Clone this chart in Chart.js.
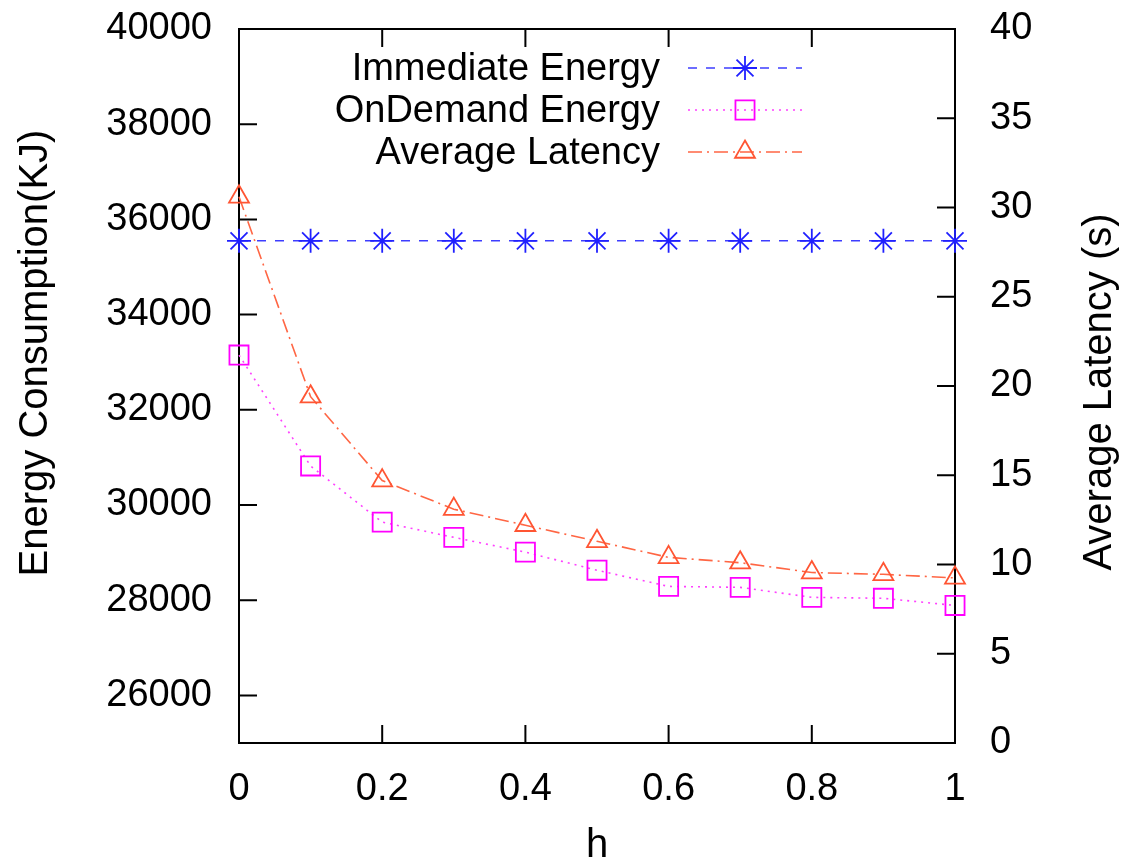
<!DOCTYPE html>
<html>
<head>
<meta charset="utf-8">
<script src="https://cdn.jsdelivr.net/npm/chart.js@4.4.1/dist/chart.umd.min.js"></script>
<style>
  html, body { margin: 0; padding: 0; background: #fff; }
  #wrap { width: 1127px; height: 862px; }
</style>
</head>
<body>
<div id="wrap"><canvas id="grafico"></canvas></div>
<script>
// valores
const hValues = [0, 0.1, 0.2, 0.3, 0.4, 0.5, 0.6, 0.7, 0.8, 0.9, 1];
const immediateEnergy = [35550, 35550, 35550, 35550, 35550, 35550, 35550, 35550, 35550, 35550, 35550];
const onDemandEnergy = [33150, 30820, 29640, 29320, 29010, 28630, 28290, 28270, 28060, 28040, 27890];
const avgLatency = [30.6, 19.4, 14.7, 13.1, 12.2, 11.3, 10.4, 10.1, 9.55, 9.45, 9.25];

const energyTicks = [26000, 28000, 30000, 32000, 34000, 36000, 38000, 40000];
const latencyTicks = [0, 5, 10, 15, 20, 25, 30, 35, 40];
const hTicks = [0, 0.2, 0.4, 0.6, 0.8, 1];

const seriesNames = ['Immediate Energy', 'OnDemand Energy', 'Average Latency'];
const xTitle = 'h';
const yTitle = 'Energy Consumption(KJ)';
const y2Title = 'Average Latency (s)';

const FUENTE = "'Liberation Sans', Arial, Helvetica, sans-serif";

function puntos(ys) {
    return hValues.map((h, i) => ({ x: h, y: ys[i] }));
}

// marcas hacia dentro, marco, leyenda y titulos (estilo gnuplot)
const estiloGnuplot = {
    id: 'estiloGnuplot',
    beforeDatasetsDraw(chart) {
        const { ctx, chartArea: a, scales } = chart;
        const largo = 18;
        ctx.save();
        ctx.strokeStyle = '#000';
        ctx.lineWidth = 2;
        ctx.beginPath();
        energyTicks.forEach(v => {
            const y = scales.y.getPixelForValue(v);
            ctx.moveTo(a.left, y);
            ctx.lineTo(a.left + largo, y);
        });
        latencyTicks.forEach(v => {
            const y = scales.y2.getPixelForValue(v);
            ctx.moveTo(a.right, y);
            ctx.lineTo(a.right - largo, y);
        });
        hTicks.forEach(v => {
            const x = scales.x.getPixelForValue(v);
            ctx.moveTo(x, a.bottom);
            ctx.lineTo(x, a.bottom - largo);
            ctx.moveTo(x, a.top);
            ctx.lineTo(x, a.top + largo);
        });
        ctx.stroke();
        ctx.strokeRect(a.left, a.top, a.right - a.left, a.bottom - a.top);
        ctx.restore();
    },
    afterDraw(chart) {
        const { ctx, chartArea: a } = chart;
        ctx.save();

        // titulos de los ejes
        ctx.fillStyle = '#000';
        ctx.font = '40px ' + FUENTE;
        ctx.textAlign = 'center';
        ctx.textBaseline = 'middle';
        ctx.fillText(xTitle, (a.left + a.right) / 2, 846);
        ctx.save();
        ctx.translate(36, 353);
        ctx.rotate(-Math.PI / 2);
        ctx.fillText(yTitle, 0, 0);
        ctx.restore();
        ctx.save();
        ctx.translate(1100, 392);
        ctx.rotate(-Math.PI / 2);
        ctx.fillText(y2Title, 0, 0);
        ctx.restore();

        // leyenda
        const filas = [68, 110, 152];
        chart.data.datasets.forEach((ds, i) => {
            const y = filas[i];
            ctx.fillStyle = '#000';
            ctx.font = '38px ' + FUENTE;
            ctx.textAlign = 'right';
            ctx.textBaseline = 'middle';
            ctx.fillText(seriesNames[i], 660, y + 2);

            ctx.strokeStyle = ds.borderColor;
            ctx.lineWidth = ds.borderWidth;
            ctx.setLineDash(ds.borderDash);
            ctx.beginPath();
            ctx.moveTo(688, y);
            ctx.lineTo(802, y);
            ctx.stroke();
            ctx.setLineDash([]);

            ctx.strokeStyle = ds.pointBorderColor;
            ctx.fillStyle = 'rgba(0,0,0,0)';
            ctx.lineWidth = ds.pointBorderWidth;
            Chart.helpers.drawPoint(ctx, {
                pointStyle: ds.pointStyle,
                radius: ds.pointRadius,
                rotation: 0,
                borderWidth: ds.pointBorderWidth
            }, 745, y);
        });
        ctx.restore();
    }
};

const sinRelleno = (s) => { s.paddingTop = 0; s.paddingBottom = 0; };

const ctx = document.getElementById('grafico').getContext('2d');
const grafico = new Chart(ctx, {
    type: 'line',
    data: {
        datasets: [{
            label: seriesNames[0],
            data: puntos(immediateEnergy),
            yAxisID: 'y',
            borderColor: 'rgba(40, 40, 255, 0.9)',
            borderWidth: 1.6,
            borderDash: [9, 9],
            pointStyle: 'star',
            pointRadius: 12,
            pointBorderColor: '#2020ff',
            pointBackgroundColor: 'rgba(0,0,0,0)',
            pointBorderWidth: 1.8,
            clip: false
        }, {
            label: seriesNames[1],
            data: puntos(onDemandEnergy),
            yAxisID: 'y',
            borderColor: '#ff40ff',
            borderWidth: 1.6,
            borderDash: [2, 5],
            pointStyle: 'rect',
            pointRadius: 13.5,
            pointBorderColor: '#ff00ff',
            pointBackgroundColor: 'rgba(0,0,0,0)',
            pointBorderWidth: 1.8,
            clip: false
        }, {
            label: seriesNames[2],
            data: puntos(avgLatency),
            yAxisID: 'y2',
            borderColor: '#ff6644',
            borderWidth: 1.6,
            borderDash: [14, 5, 2, 5],
            pointStyle: 'triangle',
            pointRadius: 11.5,
            pointBorderColor: '#ff5533',
            pointBackgroundColor: 'rgba(0,0,0,0)',
            pointBorderWidth: 1.8,
            clip: false
        }]
    },
    options: {
        responsive: true,
        maintainAspectRatio: false,
        animation: false,
        layout: { padding: { top: 29, left: 0, right: 0, bottom: 0 } },
        plugins: {
            legend: { display: false },
            tooltip: { enabled: false }
        },
        scales: {
            x: {
                type: 'linear',
                min: 0,
                max: 1,
                afterBuildTicks: (s) => { s.ticks = hTicks.map(v => ({ value: v })); },
                afterFit: (s) => { s.height = 119; },
                grid: { display: false, drawTicks: false },
                border: { display: false },
                ticks: {
                    padding: 24,
                    color: '#000',
                    font: { family: FUENTE, size: 38 },
                    maxRotation: 0,
                    callback: (v) => String(v)
                }
            },
            y: {
                position: 'left',
                min: 25000,
                max: 40000,
                afterBuildTicks: (s) => { s.ticks = energyTicks.map(v => ({ value: v })); },
                afterFit: (s) => { s.width = 239; sinRelleno(s); },
                grid: { display: false, drawTicks: false },
                border: { display: false },
                ticks: {
                    padding: 27,
                    color: '#000',
                    font: { family: FUENTE, size: 38 },
                    callback: (v) => String(v)
                }
            },
            y2: {
                position: 'right',
                min: 0,
                max: 40,
                afterBuildTicks: (s) => { s.ticks = latencyTicks.map(v => ({ value: v })); },
                afterFit: (s) => { s.width = 172; sinRelleno(s); },
                grid: { display: false, drawTicks: false },
                border: { display: false },
                ticks: {
                    padding: 35,
                    color: '#000',
                    font: { family: FUENTE, size: 38 },
                    callback: (v) => String(v)
                }
            }
        }
    },
    plugins: [estiloGnuplot]
});
</script>
</body>
</html>
